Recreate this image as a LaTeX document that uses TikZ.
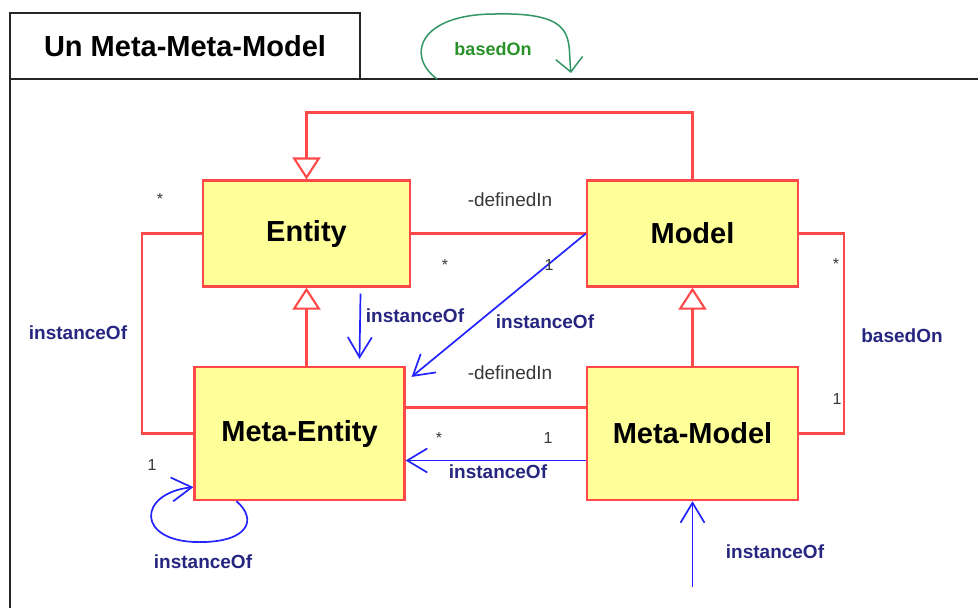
\documentclass[tikz,border=0pt]{standalone}
\usepackage{fontspec}
\setmainfont{Liberation Sans}
\usetikzlibrary{arrows.meta, calc}
\definecolor{boxfill}{RGB}{255,255,153}
\definecolor{umlred}{RGB}{255,72,72}
\definecolor{umlblue}{RGB}{35,35,255}
\definecolor{navy}{RGB}{38,38,128}
\definecolor{loopgreen}{RGB}{50,150,100}
\definecolor{textgreen}{RGB}{40,145,40}
\definecolor{darktext}{RGB}{55,55,55}

\begin{document}
\begin{tikzpicture}[x=1pt, y=-1pt,
    classbox/.style={draw=umlred, line width=2.2pt, fill=boxfill,
                     font=\fontsize{29}{33}\selectfont\bfseries},
    titlebox/.style={draw=black!85, line width=1.5pt, minimum width=350pt,
                     minimum height=66pt, font=\fontsize{29}{33}\selectfont\bfseries},
    frame/.style={draw=black!85, line width=1.5pt},
    assoc/.style={draw=umlred, line width=2.2pt},
    inherit/.style={assoc, -{Triangle[length=22pt, width=28pt, fill=white, line width=2.1pt]}},
    inst/.style={draw=umlblue, line width=1.7pt,
                 -{Straight Barb[length=20pt, width=24pt, line width=1.7pt]}},
    selfloop/.style={draw=loopgreen, line width=1.5pt,
                 -{Straight Barb[length=14pt, width=27pt, line width=1.5pt]}},
    instlabel/.style={navy, font=\fontsize{19}{22}\selectfont\bfseries},
    basedlabel/.style={textgreen, font=\fontsize{18}{22}\selectfont\bfseries},
    rolelabel/.style={darktext, font=\fontsize{19}{22}\selectfont},
    mult/.style={darktext, font=\fontsize{16}{18}\selectfont}
]
    \useasboundingbox (0,0) rectangle (978,608);

    % Title and frame
    \draw[frame] (10,608) |- (978,79);
    \node[titlebox] (title) at (185,46) {Un Meta-Meta-Model};
    \coordinate (loopstart) at (437,79);
    \coordinate (loopend) at (571,73);
    \draw[selfloop] (loopstart) .. controls (405,55) and (420,14) .. (495,14)
        .. controls (580,12) and (567,40) .. (loopend);
    \node[basedlabel] (basedtop) at (493,49) {basedOn};

    % Classes
    \node[classbox, minimum width=207pt, minimum height=106pt] (entity) at (306.5,233.5) {Entity};
    \node[classbox, minimum width=211pt, minimum height=106pt] (model) at (692.5,233.5) {Model};
    \node[classbox, minimum width=210pt, minimum height=133pt] (metaentity) at (299.5,433.5) {Meta-Entity};
    \node[classbox, minimum width=211pt, minimum height=133pt] (metamodel) at (692.5,433.5) {Meta-Model};

    % Generalizations
    \draw[inherit] (model.north) -- ++(0,-67) -| (entity.north);
    \draw[inherit] (entity.south |- metaentity.north) -- (entity.south);
    \draw[inherit] (metamodel.north) -- (model.south);

    % Associations
    \draw[assoc] (entity.east) -- (model.west);
    \draw[assoc] (entity.west) -- ++(-60,0) |- (metaentity.west);
    \draw[assoc] (model.east) -- ++(45,0) |- (metamodel.east);
    \draw[assoc] ([yshift=26pt]metaentity.east) -- ([yshift=26pt]metamodel.west);

    % instanceOf links
    \draw[inst] ([xshift=54pt,yshift=-6pt]entity.south) -- ([xshift=60pt,yshift=7pt]metaentity.north);
    \draw[inst] (model.west) -- ([xshift=6pt,yshift=-11pt]metaentity.north east);
    \draw[inst] ([yshift=-27pt]metamodel.west) -- ([yshift=-27pt]metaentity.east);
    \draw[inst] ($(metaentity.south west)+(43,0)$)
        .. controls +(21,18) and +(50,0) .. ++(-37,41)
        .. controls +(-64,0) and +(-56,6) .. ([yshift=14pt]metaentity.south west);
    \coordinate (mmsource) at (692.5,587);
    \draw[inst] (mmsource) -- (metamodel.south);

    % Labels
    \node[rolelabel] (role1) at (510,200) {-definedIn};
    \node[rolelabel] (role2) at (510,373) {-definedIn};
    \node[mult] (m1) at (160,199) {*};
    \node[mult] (m2) at (445,265) {*};
    \node[mult] (m3) at (549,265) {1};
    \node[mult] (m4) at (152,465) {1};
    \node[mult] (m5) at (439,438) {*};
    \node[mult] (m6) at (548,438) {1};
    \node[mult] (m7) at (836,264) {*};
    \node[mult] (m8) at (837,399) {1};
    \node[instlabel] (i1) at (78,333) {instanceOf};
    \node[instlabel] (i2) at (415,316) {instanceOf};
    \node[instlabel] (i3) at (545,322) {instanceOf};
    \node[instlabel] (i4) at (498,472) {instanceOf};
    \node[instlabel] (i5) at (203,562) {instanceOf};
    \node[instlabel] (i6) at (775,552) {instanceOf};
    \node[instlabel] (based) at (902,336) {basedOn};
\end{tikzpicture}
\end{document}
